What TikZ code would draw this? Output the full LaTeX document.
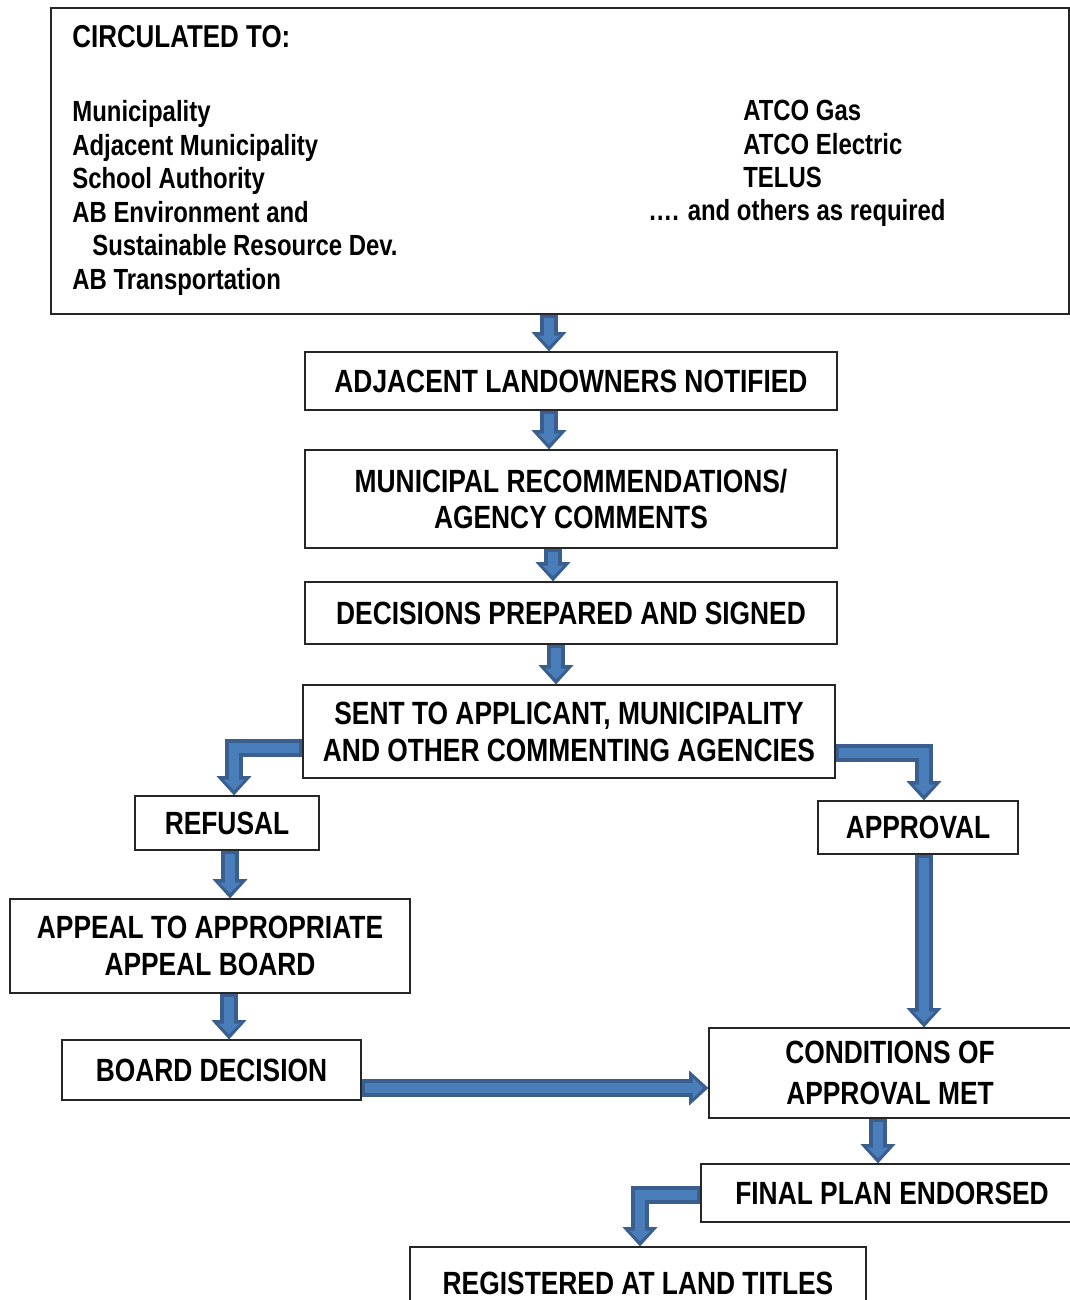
\documentclass[tikz,border=0pt]{standalone}
\usepackage{fontspec}
\setmainfont{Liberation Sans}[FakeStretch=0.82]
\usetikzlibrary{arrows.meta}
\definecolor{arrowfill}{HTML}{4A7EBB}
\definecolor{arrowedge}{HTML}{3A5F8F}
\tikzset{
  box/.style={draw=black!85, line width=0.7pt, fill=white, inner sep=0pt, align=center, font=\fontsize{18.3}{21}\selectfont\bfseries},
  listtext/.style={inner sep=0pt, align=left, font=\fontsize{16.6}{19.1}\selectfont\bfseries},
  flow/.style={line join=miter, preaction={draw=arrowedge, line width=10pt, shorten <=0pt, shorten >=0pt, -{Triangle[width=20pt,length=11pt,line width=0pt]}}, draw=arrowfill, line width=5.4pt, shorten <=2pt, shorten >=3pt, -{Triangle[width=12pt,length=6pt,line width=0pt]}}
}
\begin{document}
\begin{tikzpicture}[x=0.02cm, y=-0.02cm]
\useasboundingbox (0,0) rectangle (1070,1300);
\node[box, minimum width=20.36cm, minimum height=6.12cm] (circ) at (560,161){};
\node[listtext, font=\fontsize{18}{20}\selectfont\bfseries, anchor=base west] (title) at (72,48){CIRCULATED TO:};
\node[listtext, anchor=north west] (left) at (72,100){Municipality\\Adjacent Municipality\\School Authority\\AB Environment and\\\hspace*{0.4cm}Sustainable Resource Dev.\\AB Transportation};
\node[listtext, anchor=north west] (right) at (743,100){ATCO Gas\\ATCO Electric\\TELUS};
\node[listtext, anchor=base west] (others) at (648,221){…. and others as required};
\node[box, minimum width=10.64cm, minimum height=1.16cm] (adj) at (571,381){ADJACENT LANDOWNERS NOTIFIED};
\node[box, minimum width=10.64cm, minimum height=1.96cm] (mun) at (571,499){MUNICIPAL RECOMMENDATIONS/\\AGENCY COMMENTS};
\node[box, minimum width=10.64cm, minimum height=1.24cm] (dec) at (571,613){DECISIONS PREPARED AND SIGNED};
\node[box, minimum width=10.64cm, minimum height=1.86cm] (sent) at (569,731.5){SENT TO APPLICANT, MUNICIPALITY\\AND OTHER COMMENTING AGENCIES};
\node[box, minimum width=3.68cm, minimum height=1.08cm] (refusal) at (227,823){REFUSAL};
\node[box, minimum width=4cm, minimum height=1.06cm] (approval) at (918,827.5){APPROVAL};
\node[box, minimum width=8cm, minimum height=1.88cm] (appeal) at (210,946){APPEAL TO APPROPRIATE\\APPEAL BOARD};
\node[box, minimum width=5.98cm, minimum height=1.2cm] (board) at (211.5,1070){BOARD DECISION};
\node[box, minimum width=7.24cm, minimum height=1.8cm, font=\fontsize{18.3}{23}\selectfont\bfseries] (cond) at (890,1073){CONDITIONS OF\\APPROVAL MET};
\node[box, minimum width=7.64cm, minimum height=1.16cm] (final) at (892,1193){FINAL PLAN ENDORSED};
\node[box, minimum width=9.12cm, minimum height=1.44cm] (reg) at (638,1283){REGISTERED AT LAND TITLES};
\draw[flow] (circ.south -| 549,0) -- (adj.north -| 549,0);
\draw[flow] (adj.south -| 549,0) -- (mun.north -| 549,0);
\draw[flow] (mun.south -| 553,0) -- (dec.north -| 553,0);
\draw[flow] (dec.south -| 556,0) -- (sent.north -| 556,0);
\draw[flow] (sent.west |- 0,748) -| (refusal.north -| 234,0);
\draw[flow] (sent.east |- 0,753) -| (approval.north -| 924,0);
\draw[flow] (refusal.south -| 230,0) -- (appeal.north -| 230,0);
\draw[flow] (appeal.south -| 229,0) -- (board.north -| 229,0);
\draw[flow] (approval.south -| 924,0) -- (cond.north -| 924,0);
\draw[flow] (board.east |- 0,1088) -- (cond.west |- 0,1088);
\draw[flow] (cond.south -| 878,0) -- (final.north -| 878,0);
\draw[flow] (final.west |- 0,1195) -| (reg.north -| 640,0);
\end{tikzpicture}
\end{document}
